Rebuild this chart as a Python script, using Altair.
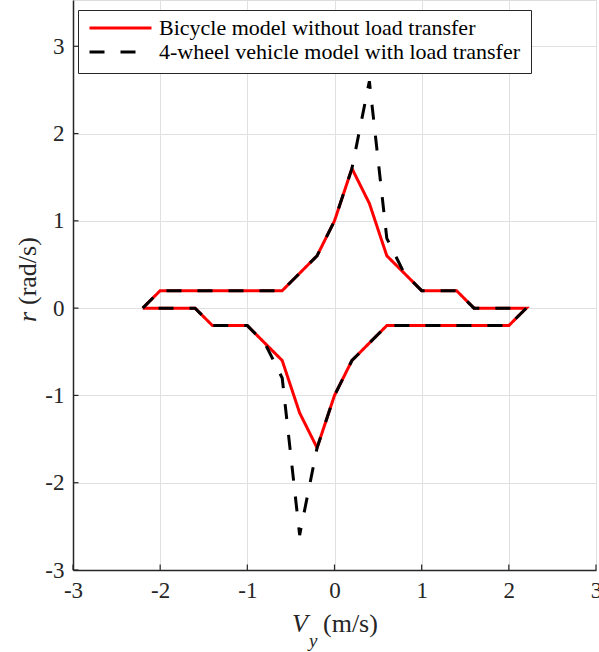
import altair as alt
import pandas as pd

# ---- data ----
series_names = ["Bicycle model without load transfer",
                "4-wheel vehicle model with load transfer"]

bike_vy = [-2.2, -2.0, -0.6, -0.2, 0.0, 0.2, 0.4, 0.6, 1.0, 1.4, 1.6, 2.2,
           2.0, 0.6, 0.2, 0.0, -0.2, -0.4, -0.6, -1.0, -1.4, -1.6, -2.2]
bike_r = [0.0, 0.2, 0.2, 0.6, 1.0, 1.6, 1.2, 0.6, 0.2, 0.2, 0.0, 0.0,
          -0.2, -0.2, -0.6, -1.0, -1.6, -1.2, -0.6, -0.2, -0.2, 0.0, 0.0]

four_vy = [-2.2, -2.0, -0.6, -0.2, 0.0, 0.2, 0.4, 0.6, 0.8, 1.0, 1.4, 1.6, 2.2,
           2.0, 0.6, 0.2, 0.0, -0.2, -0.4, -0.6, -0.8, -1.0, -1.4, -1.6, -2.2]
four_r = [0.0, 0.2, 0.2, 0.6, 1.0, 1.6, 2.6, 0.8, 0.4, 0.2, 0.2, 0.0, 0.0,
          -0.2, -0.2, -0.6, -1.0, -1.6, -2.6, -0.8, -0.4, -0.2, -0.2, 0.0, 0.0]

x_ticks = [-3, -2, -1, 0, 1, 2, 3]
y_ticks = [-3, -2, -1, 0, 1, 2, 3]

# ---- tables ----
bike = pd.DataFrame({"vy": bike_vy, "r": bike_r, "series": series_names[0],
                     "order": list(range(len(bike_vy)))})
four = pd.DataFrame({"vy": four_vy, "r": four_r, "series": series_names[1],
                     "order": list(range(len(four_vy)))})
xt = pd.DataFrame({"v": x_ticks})
yt = pd.DataFrame({"v": y_ticks})

W, H = 523, 570
FONT = "Liberation Serif"
AX = "#262626"

xs = alt.Scale(domain=[-3, 3], nice=False, zero=False)
ys = alt.Scale(domain=[-3, 3.53], nice=False, zero=False)

x_axis = alt.Axis(values=x_ticks, title=None, labelPadding=9,
                  labelExpr="'' + datum.value", labelFlush=False,
                  labelFontSize=23, labelFont=FONT)
y_axis = alt.Axis(values=y_ticks, title=None, labelPadding=9,
                  labelExpr="'' + datum.value", labelFlush=False,
                  labelFontSize=23, labelFont=FONT)

def make_legend():
    return alt.Legend(title=None, orient="none", legendX=5, legendY=10,
                      fillColor="white", strokeColor=AX, padding=10,
                      labelFont=FONT, labelFontSize=22, labelColor="black",
                      labelLimit=1000, symbolType="stroke",
                      symbolSize=3844, symbolStrokeWidth=3,
                      labelOffset=6, clipHeight=16, rowPadding=2)

color = alt.Color("series:N",
                  scale=alt.Scale(domain=series_names, range=["#ff0000", "#000000"]),
                  legend=make_legend())
dash = alt.StrokeDash("series:N",
                      scale=alt.Scale(domain=series_names, range=[[1, 0], [15, 16]]),
                      legend=make_legend())

red = alt.Chart(bike).mark_line(strokeWidth=3, clip=True).encode(
    x=alt.X("vy:Q", scale=xs, axis=x_axis),
    y=alt.Y("r:Q", scale=ys, axis=y_axis),
    color=color, strokeDash=dash, order="order:Q")

black = alt.Chart(four).mark_line(strokeWidth=3, clip=True).encode(
    x=alt.X("vy:Q", scale=xs, axis=x_axis),
    y=alt.Y("r:Q", scale=ys, axis=y_axis),
    color=color, strokeDash=dash, order="order:Q")

# inward ticks
xtick = alt.Chart(xt).mark_rule(color=AX, strokeWidth=1.2).encode(
    x=alt.X("v:Q", scale=xs, axis=x_axis), y=alt.value(H), y2=alt.value(H - 5.5))
ytick = alt.Chart(yt).mark_rule(color=AX, strokeWidth=1.2).encode(
    y=alt.Y("v:Q", scale=ys, axis=y_axis), x=alt.value(0), x2=alt.value(5.5))

# axis titles with italic symbols
one = pd.DataFrame({"a": [0]})
def txt(s, x, y, size=26, italic=False, angle=0, align="left"):
    kw = dict(font=FONT, fontSize=size, color=AX, align=align, baseline="alphabetic")
    if italic:
        kw["fontStyle"] = "italic"
    if angle:
        kw["angle"] = angle
    return alt.Chart(one).mark_text(text=s, **kw).encode(x=alt.value(x), y=alt.value(y))

titles = (
    txt("V", 292 - 73, 632, italic=True)
    + txt("y", 309 - 73, 647, size=19, italic=True)
    + txt("(m/s)", 323 - 73, 632)
    + txt("r", 36 - 73, 322, italic=True, angle=270)
    + txt("(rad/s)", 36 - 73, 305, angle=270)
)

chart = alt.layer(red, black, xtick, ytick, titles).properties(
    width=W, height=H,
    padding={"left": 73, "top": 0, "right": 3, "bottom": 82},
    autosize=alt.AutoSizeParams(type="none"),
).configure_view(stroke=None).configure(background="white").configure_axis(
    grid=True, gridColor="#e0e0e0", gridWidth=1, ticks=False,
    domainColor=AX, domainWidth=1.5,
    labelFont=FONT, labelFontSize=23, labelColor=AX,
)

chart.save("out.html", embed_options={"renderer": "svg", "actions": False})
